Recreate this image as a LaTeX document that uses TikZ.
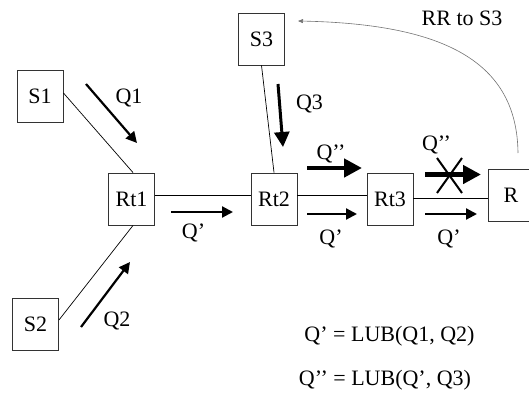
\documentclass[tikz,border=0pt]{standalone}
\usepackage{fontspec}
\setmainfont{Liberation Serif}
\usetikzlibrary{arrows.meta}
\begin{document}
\begin{tikzpicture}[x=1pt,y=-1pt,
  every node/.style={font=\fontsize{22}{25}\selectfont},
  box/.style={draw=black!80,line width=0.9pt,minimum width=46pt,minimum height=52pt,inner sep=0pt},
  link/.style={line width=0.7pt},
  lbl/.style={anchor=base,inner sep=0pt},
  flow/.style={line width=2.2pt,-{Triangle[length=11pt,width=11pt]}},
  bigflow/.style={line width=4.5pt,-{Triangle[length=18pt,width=18pt]}},
  q3flow/.style={line width=3pt,-{Triangle[length=15pt,width=15pt]}},
  cross/.style={line width=2pt},
  rr/.style={line width=0.6pt,draw=black!55,-{Triangle[length=5pt,width=4pt]}}
]
\useasboundingbox (0,0) rectangle (529,396);
\clip (0,0) rectangle (529,396);

% boxes
\node[box] (S1) at (40,96) {S1};
\node[box] (S2) at (35.5,324) {S2};
\node[box] (S3) at (261.5,39) {S3};
\node[box] (Rt1) at (131.5,199) {Rt1};
\node[box] (Rt2) at (274,199) {Rt2};
\node[box] (Rt3) at (390,199) {Rt3};
\node[box] (R) at (511,195) {R};

% links
\draw[link] ([yshift=3pt]S1.east) -- ([xshift=1.5pt]Rt1.north);
\draw[link] ([yshift=4pt]S2.east) -- ([xshift=1.5pt]Rt1.south);
\draw[link] (S3.south) -- (Rt2.north);
\draw[link] ([yshift=4pt]Rt1.east) -- ([yshift=4pt]Rt2.west);
\draw[link] ([yshift=4pt]Rt2.east) -- ([yshift=4pt]Rt3.west);
\draw[link] ([yshift=1pt]Rt3.east) -- ([yshift=1pt]Rt3.east -| R.west);

% flow arrows
\coordinate (q1a) at (86,84);  \coordinate (q1b) at (137,143);
\coordinate (q2a) at (81,327); \coordinate (q2b) at (130,262);
\coordinate (qpa) at (171,212); \coordinate (qpb) at (233,212);
\coordinate (q3a) at (278,84); \coordinate (q3b) at (283,147);
\coordinate (qqa) at (307,168); \coordinate (qqb) at (362,168);
\coordinate (qpc) at (307,214); \coordinate (qpd) at (357,214);
\coordinate (qqc) at (425,174.5); \coordinate (qqd) at (481,174.5);
\coordinate (qpe) at (425,214); \coordinate (qpf) at (477,214);
\draw[flow] (q1a) -- (q1b);
\draw[flow] (q2a) -- (q2b);
\draw[flow] (qpa) -- (qpb);
\draw[q3flow] (q3a) -- (q3b);
\draw[bigflow] (qqa) -- (qqb);
\draw[flow] (qpc) -- (qpd);
\draw[bigflow] (qqc) -- (qqd);
\draw[flow] (qpe) -- (qpf);

% cross
\coordinate (x1) at (437,158); \coordinate (x2) at (462,193);
\coordinate (x3) at (462,158); \coordinate (x4) at (437,193);
\draw[cross] (x1) -- (x2);
\draw[cross] (x3) -- (x4);

% RR arc
\coordinate (rrs) at (518,153);
\coordinate (rre) at (298,21);
\draw[rr] (rrs) .. controls (517,62) and (445,24) .. (rre);

% labels
\node[lbl] (lq1) at (129,103.5) {Q1};
\node[lbl] (lq2) at (117,326) {Q2};
\node[lbl] (lqp1) at (193.5,238) {Q’};
\node[lbl] (lq3) at (309.5,109.5) {Q3};
\node[lbl] (lqq1) at (331,159.5) {Q’{}’};
\node[lbl] (lqp2) at (331,244) {Q’};
\node[lbl] (lqq2) at (436.5,150) {Q’{}’};
\node[lbl] (lqp3) at (449,244) {Q’};
\node[lbl] (lrr) at (462,26) {RR to S3};
\node[lbl] (f1) at (389.5,341.5) {Q’ = LUB(Q1, Q2)};
\node[lbl] (f2) at (385,385) {Q’{}’ = LUB(Q’, Q3)};
\end{tikzpicture}
\end{document}
